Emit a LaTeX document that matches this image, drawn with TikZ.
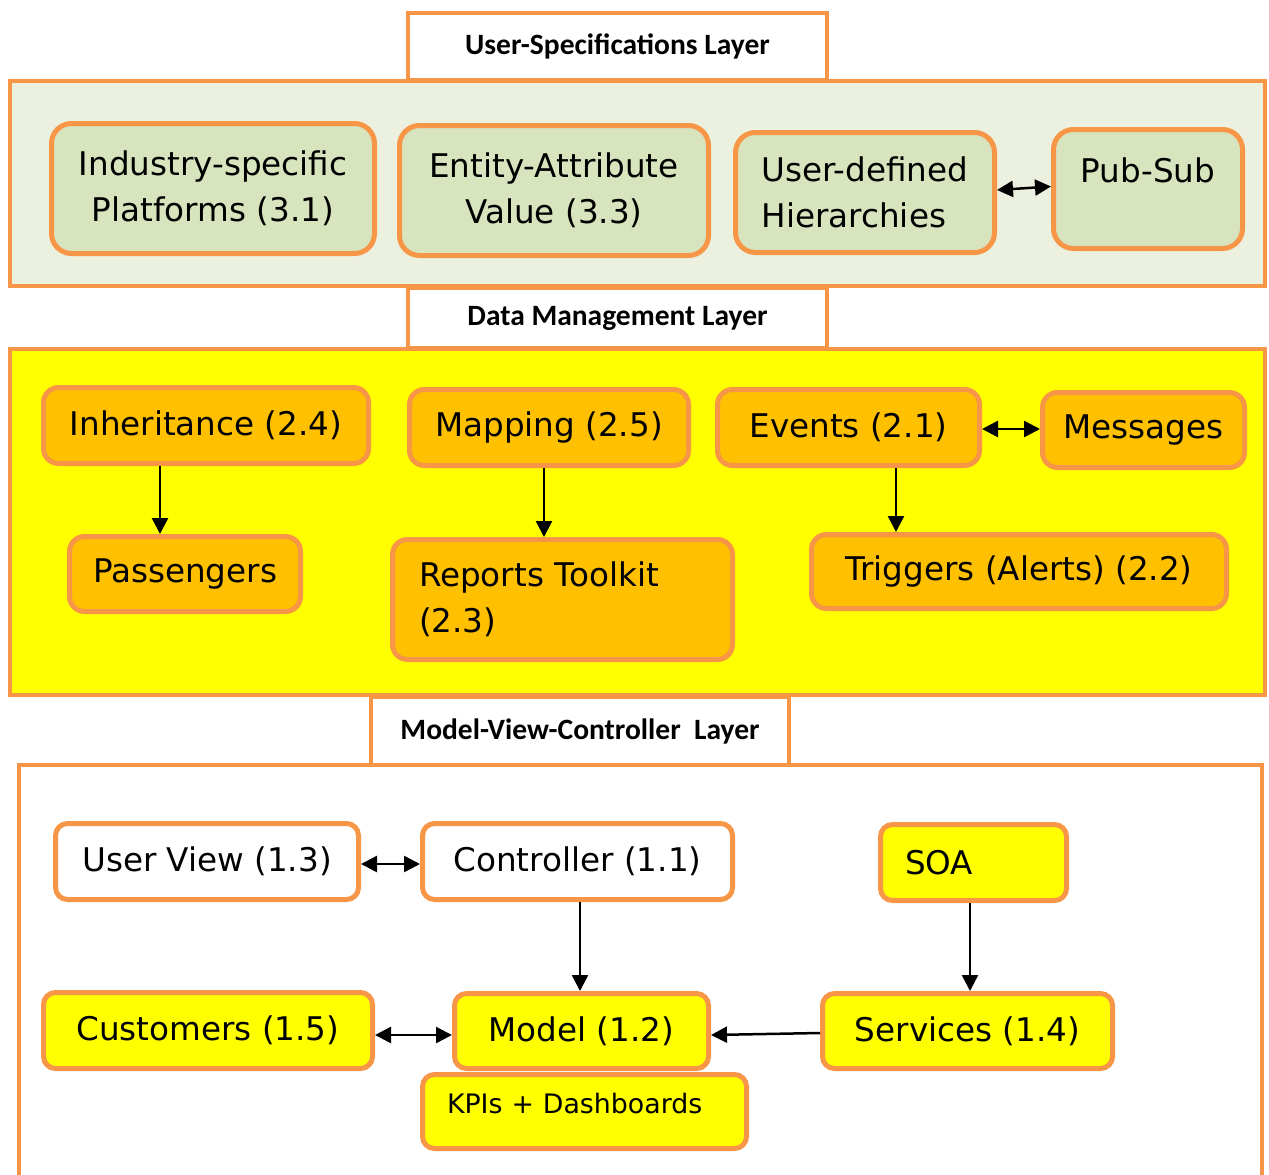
\documentclass[tikz,border=0pt]{standalone}
\usepackage{fontspec}
\setmainfont{DejaVu Sans}
\newfontfamily\lblfont{Carlito}
\usetikzlibrary{arrows.meta}
\definecolor{borange}{HTML}{F79646}
\definecolor{lgreen}{HTML}{EBF1DE}
\definecolor{ngreen}{HTML}{D7E4BD}
\definecolor{norange}{HTML}{FFC000}
\definecolor{nyellow}{HTML}{FFFF00}
\begin{document}
\begin{tikzpicture}[x=1pt,y=-1pt,
  corners/.style n args={4}{at={({((#1)+(#3))/2},{((#2)+(#4))/2})},
    minimum width={(#3)-(#1)}, minimum height={(#4)-(#2)}},
  box/.style={draw=borange, line width=5pt, inner sep=0pt,
    font=\fontsize{32.6}{46}\selectfont, align=center},
  gbox/.style={box, fill=ngreen, rounded corners=20pt},
  obox/.style={box, fill=norange, rounded corners=15pt},
  ybox/.style={box, fill=nyellow, rounded corners=12pt},
  wbox/.style={box, fill=white, rounded corners=12pt},
  lbl/.style={draw=borange, line width=4pt, fill=white, inner sep=0pt,
    font=\lblfont\bfseries\fontsize{29.5}{34}\selectfont},
  layer/.style={draw=borange, line width=4pt},
  arr/.style={line width=2.5pt, -{Triangle[length=16pt,width=16pt]}},
  darr/.style={line width=2.5pt, {Triangle[length=16pt,width=16pt]}-{Triangle[length=16pt,width=16pt]}},
]
\useasboundingbox (0,0) rectangle (1269,1175);

% ---------- layer 1 ----------
\filldraw[layer, fill=lgreen] (10,81) rectangle (1265,286);
\node[lbl, corners={408}{13}{827}{80}] (l1) {User-Specifications Layer};

\node[gbox, corners={51.5}{123.5}{374.5}{253.5}] (ind) {Industry-specific\\Platforms (3.1)};
\node[gbox, corners={399.5}{125.5}{708.5}{255.5}] (eav) {Entity-Attribute\\Value (3.3)};
\node[gbox, align=left, corners={735.5}{132.5}{994.5}{252.5}] (udh) {User-defined\\Hierarchies};
\node[gbox, text depth=38pt, corners={1053.5}{129.5}{1242.5}{248.5}] (pub) {Pub-Sub};

\draw[darr] ([yshift=2.5pt]udh.east) -- ([yshift=2.5pt]pub.west);

% ---------- layer 2 ----------
\filldraw[layer, fill=nyellow] (10,349) rectangle (1265,695);
\node[lbl, corners={408}{288}{827}{348}] (l2) {Data Management Layer};

\node[obox, corners={43.5}{387.5}{368.5}{463.5}] (inh) {Inheritance (2.4)};
\node[obox, corners={409.5}{389.5}{688.5}{465.5}] (map) {Mapping (2.5)};
\node[obox, corners={717.5}{389.5}{979.5}{465.5}] (evt) {Events (2.1)};
\node[obox, corners={1042.5}{392.5}{1244.5}{467.5}] (msg) {Messages};
\node[obox, corners={69.5}{536.5}{300.5}{611.5}] (pas) {Passengers};
\node[obox, align=left, text width=287pt, corners={392.5}{539.5}{732.5}{659.5}] (rep) {Reports Toolkit\\(2.3)};
\node[obox, corners={811.5}{534.5}{1226.5}{608.5}] (trg) {Triggers (Alerts) (2.2)};

\draw[arr] ([xshift=-46pt]inh.south) -- ([xshift=-25pt]pas.north);
\draw[arr] ([xshift=-5pt]map.south) -- ([xshift=-18.5pt]rep.north);
\draw[arr] ([xshift=47.5pt]evt.south) -- ([xshift=-123pt]trg.north);
\draw[darr] ([yshift=-1.5pt]evt.east) -- ([yshift=1pt]msg.west);

% ---------- layer 3 ----------
\fill[white] (19,765) rectangle (1262,1175);
\draw[layer] (19,1175) -- (19,765) -- (1262,765) -- (1262,1175);
\node[lbl, corners={371}{697}{789}{765}] (l3) {Model-View-Controller\ \ Layer};

\node[wbox, corners={55.5}{823.5}{358.5}{899.5}] (uv) {User View (1.3)};
\node[wbox, corners={422.5}{823.5}{732.5}{899.5}] (ctl) {Controller (1.1)};
\node[ybox, align=left, text width=137pt, corners={880.5}{824.5}{1066.5}{900.5}] (soa) {SOA};
\node[ybox, corners={43.5}{992.5}{372.5}{1068.5}] (cus) {Customers (1.5)};
\node[ybox, corners={454.5}{993.5}{708.5}{1068.5}] (mod) {Model (1.2)};
\node[ybox, corners={822.5}{993.5}{1112.5}{1068.5}] (srv) {Services (1.4)};
\node[ybox, align=left, text width=275pt, text depth=16pt,
  font=\fontsize{26.8}{32}\selectfont, corners={422.5}{1074.5}{746.5}{1148.5}] (kpi) {KPIs + Dashboards};

\draw[darr] ([yshift=-2.5pt]uv.east) -- ([yshift=-2.5pt]ctl.west);
\draw[arr] ([xshift=2.5pt]ctl.south) -- ([xshift=-1.5pt]mod.north);
\draw[arr] ([xshift=-3.5pt]soa.south) -- ([xshift=2.5pt]srv.north);
\draw[darr] ([yshift=-4.5pt]cus.east) -- ([yshift=-4pt]mod.west);
\draw[arr] ([yshift=-2pt]srv.west) -- ([yshift=-4pt]mod.east);
\end{tikzpicture}
\end{document}
